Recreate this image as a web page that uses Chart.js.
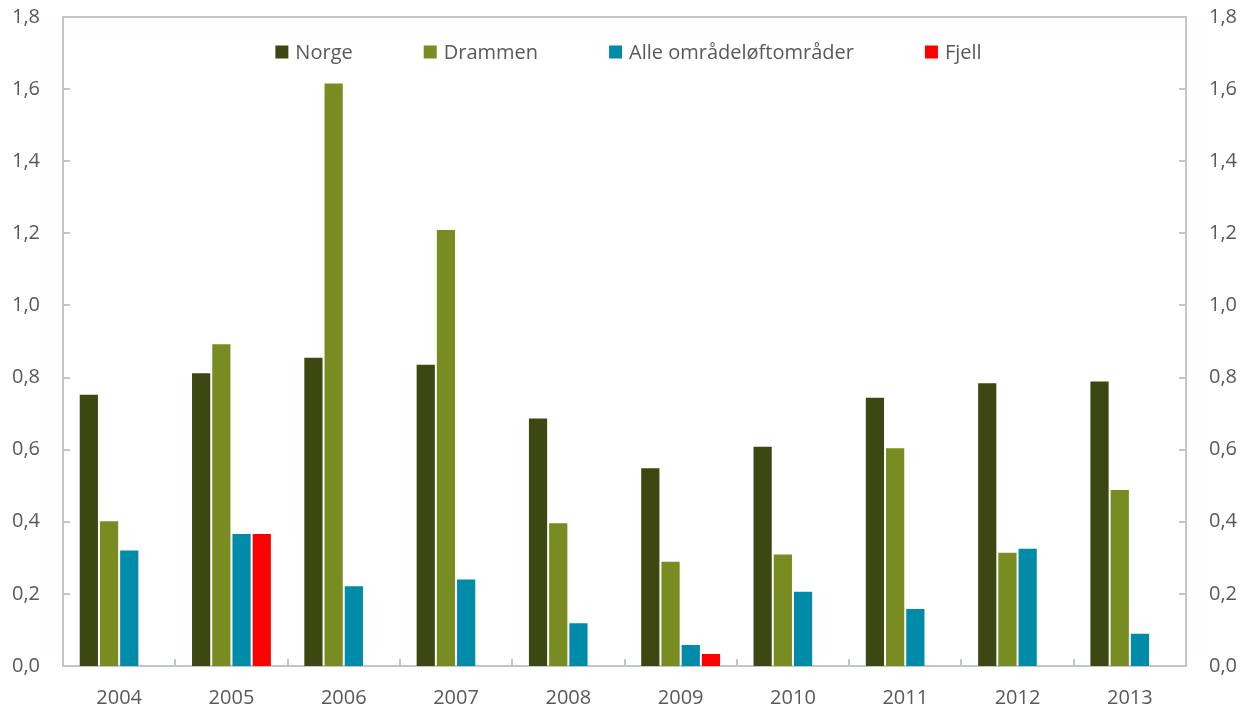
<!DOCTYPE html>
<html>
<head>
<meta charset="utf-8">
<script src="https://cdn.jsdelivr.net/npm/chart.js@4.4.1/dist/chart.umd.min.js"></script>
<style>
    body { margin: 0; background: #fff; }
    #wrap { width: 1251px; height: 711px; position: relative; }
</style>
</head>
<body>
<div id="wrap"><canvas id="barChart"></canvas></div>
<script>
const years = ['2004', '2005', '2006', '2007', '2008', '2009', '2010', '2011', '2012', '2013'];
const seriesNames = ['Norge', 'Drammen', 'Alle områdeløftområder', 'Fjell'];
const norge = [0.755, 0.815, 0.858, 0.838, 0.689, 0.551, 0.611, 0.747, 0.787, 0.792];
const drammen = [0.404, 0.895, 1.618, 1.212, 0.399, 0.292, 0.312, 0.607, 0.317, 0.491];
const alleOmrader = [0.323, 0.369, 0.224, 0.243, 0.121, 0.061, 0.209, 0.161, 0.328, 0.092];
const fjell = [null, 0.369, null, null, null, 0.036, null, null, null, null];
const yTicks = [0, 0.2, 0.4, 0.6, 0.8, 1.0, 1.2, 1.4, 1.6, 1.8];

const colors = ['#3c4712', '#788c21', '#008ba8', '#ff0000'];
const axisColor = '#bfc8c4';
const textColor = '#595959';
const fontFamily = "'Open Sans', sans-serif";

const fmt = v => v.toFixed(1).replace('.', ',');

// Frame, inward tick marks and in-plot legend
const framePlugin = {
    id: 'frame',
    afterDraw(chart) {
        const ctx = chart.ctx;
        const area = chart.chartArea;
        const x = chart.scales.x;
        const y = chart.scales.y;
        ctx.save();
        ctx.strokeStyle = axisColor;
        ctx.lineWidth = 2;
        ctx.beginPath();
        ctx.moveTo(area.left, area.top);
        ctx.lineTo(area.right, area.top);
        // y tick marks, both sides
        yTicks.forEach(v => {
            const py = Math.round(y.getPixelForValue(v));
            ctx.moveTo(area.left, py);
            ctx.lineTo(area.left + 7, py);
            ctx.moveTo(area.right, py);
            ctx.lineTo(area.right - 7, py);
        });
        // category boundary marks
        const step = x.getPixelForTick(1) - x.getPixelForTick(0);
        for (let i = 1; i < years.length; i++) {
            const px = Math.round(x.getPixelForTick(i) - step / 2);
            ctx.moveTo(px, area.bottom);
            ctx.lineTo(px, area.bottom - 7);
        }
        ctx.stroke();

        // legend row
        ctx.font = '20px ' + fontFamily;
        ctx.textBaseline = 'middle';
        const box = 13, gap = 7, spacing = 71;
        const widths = seriesNames.map(n => box + gap + ctx.measureText(n).width);
        const total = widths.reduce((a, b) => a + b, 0) + spacing * (widths.length - 1);
        let lx = (area.left + area.right) / 2 - total / 2 + 4;
        const ly = 52;
        seriesNames.forEach((name, i) => {
            ctx.fillStyle = colors[i];
            ctx.fillRect(lx, ly - box / 2, box, box);
            ctx.fillStyle = textColor;
            ctx.fillText(name, lx + box + gap, ly + 1);
            lx += widths[i] + spacing;
        });
        ctx.restore();
    }
};

const seriesData = [norge, drammen, alleOmrader, fjell];

// fixed widths for the value axes, plot top at 17px
const fitValueAxis = width => scale => {
    scale.width = width;
    scale.paddingTop = 17;
    scale.paddingBottom = 0;
};

const valueTicks = {
    color: textColor,
    font: { family: fontFamily, size: 20 },
    padding: 23,
    callback: v => fmt(v)
};

const ctx = document.getElementById('barChart').getContext('2d');
new Chart(ctx, {
    type: 'bar',
    data: {
        labels: years,
        datasets: seriesNames.map((name, i) => ({
            label: name,
            data: seriesData[i],
            backgroundColor: colors[i],
            borderColor: 'rgba(255,255,255,0.3)',
            borderWidth: 1,
            categoryPercentage: 0.72,
            barPercentage: 1.0
        }))
    },
    options: {
        responsive: true,
        maintainAspectRatio: false,
        animation: false,
        layout: {
            padding: 0
        },
        plugins: {
            legend: { display: false },
            tooltip: { enabled: false }
        },
        scales: {
            x: {
                grid: { display: false, drawTicks: false },
                border: { color: axisColor, width: 2 },
                ticks: {
                    color: textColor,
                    font: { family: fontFamily, size: 20 },
                    padding: 20
                },
                afterFit: scale => { scale.height = 45; }
            },
            y: {
                position: 'left',
                min: 0,
                max: 1.8,
                grid: { display: false, drawTicks: false },
                border: { color: axisColor, width: 2 },
                afterBuildTicks: scale => { scale.ticks = yTicks.map(v => ({ value: v })); },
                ticks: valueTicks,
                afterFit: fitValueAxis(63)
            },
            y2: {
                position: 'right',
                min: 0,
                max: 1.8,
                grid: { display: false, drawTicks: false },
                border: { color: axisColor, width: 2 },
                afterBuildTicks: scale => { scale.ticks = yTicks.map(v => ({ value: v })); },
                ticks: valueTicks,
                afterFit: fitValueAxis(65)
            }
        }
    },
    plugins: [framePlugin]
});
</script>
</body>
</html>
